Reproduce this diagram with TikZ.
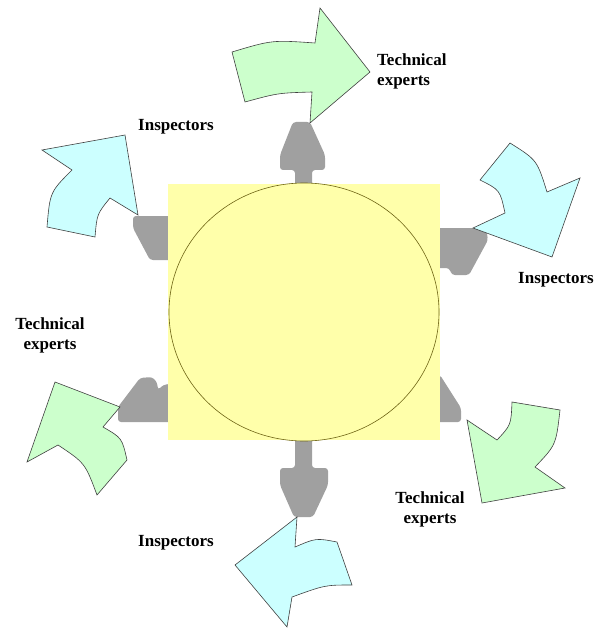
\documentclass[tikz,border=0pt]{standalone}
\usepackage{fontspec}
\setmainfont{Liberation Serif}
\usepackage{xcolor}
\definecolor{boardyellow}{RGB}{255,255,170}
\definecolor{ringline}{RGB}{110,100,20}
\definecolor{inspcyan}{RGB}{204,255,255}
\definecolor{techgreen}{RGB}{204,255,204}
\definecolor{linkgrey}{RGB}{160,160,160}
\tikzstyle{inspector arrow}=[
        draw = black!75,
        line width = 0.6pt,
        fill = inspcyan
    ]
\tikzstyle{expert arrow}=[
        draw = black!75,
        line width = 0.6pt,
        fill = techgreen
    ]
\tikzstyle{link head}=[
    fill = linkgrey,
    rounded corners = 3pt
]
\tikzstyle{tag text}=[
    font = \bfseries\fontsize{17}{20}\selectfont,
    inner sep = 0pt
]

\begin{document}
\begin{tikzpicture}[x=1pt, y=-1pt]
        \useasboundingbox (0,0) rectangle (595,628);

        % grey links, partly hidden by the board
        \fill[link head] (295,190) -- (295,170) -- (280,170) -- (280,155) -- (293,122)
            -- (310,122) -- (325,155) -- (325,170) -- (312,170) -- (312,190) -- cycle;
        \fill[link head] (295,435) -- (295,468) -- (280,468) -- (280,485) -- (294,517)
            -- (313,517) -- (328,485) -- (328,468) -- (312,468) -- (312,435) -- cycle;
        \fill[link head] (175,216) -- (133,216) -- (133,228) -- (150,260) -- (175,260) -- cycle;
        \fill[link head] (435,228) -- (486,228) -- (488,240) -- (469,275) -- (452,275)
            -- (449,268) -- (435,268) -- cycle;
        \fill[link head] (175,422) -- (118,422) -- (118,407) -- (140,378) -- (152,377)
            -- (157,382) -- (158,390) -- (163,385) -- (175,383) -- cycle;
        \fill[link head] (435,375) -- (440,375) -- (461,408) -- (461,422) -- (435,422) -- cycle;

        % board and ring
        \fill[boardyellow] (168,184) rectangle (440,440);
        \draw[ringline, fill = boardyellow, line width = 0.6pt] (304,312) ellipse [x radius=135, y radius=129];

        % curved arrows
        \draw[expert arrow] (370,72) -- (320,8) -- (315,43) .. controls (272,40) .. (232,52)
            -- (245,102) .. controls (278,93) .. (312,92) -- (310,123) -- cycle;
        \draw[inspector arrow] (125,135) -- (42,150) -- (72,170) .. controls (50,192) .. (47,227)
            -- (95,237) .. controls (97,214) .. (110,198) -- (138,215) -- cycle;
        \draw[inspector arrow] (552,257) -- (580,178) -- (547,192) .. controls (537,160) .. (510,143)
            -- (480,180) .. controls (500,190) .. (505,213) -- (473,228) -- cycle;
        \draw[expert arrow] (55,382) -- (120,407) -- (103,427) .. controls (122,438) .. (127,460)
            -- (97,495) .. controls (85,463) .. (58,445) -- (27,462) -- cycle;
        \draw[expert arrow] (482,503) -- (565,488) -- (535,467) .. controls (556,445) .. (560,410)
            -- (512,402) .. controls (511,425) .. (497,440) -- (467,420) -- cycle;
        \draw[inspector arrow] (235,565) -- (297,517) -- (295,547) .. controls (316,538) .. (337,542)
            -- (352,585) .. controls (325,585) .. (292,597) -- (287,627) -- cycle;

        % labels
        \node[tag text, anchor = west, align = left] (experts-top) at (377,71) {Technical\\experts};
        \node[tag text] (inspectors-left) at (176,127) {Inspectors};
        \node[tag text] (inspectors-right) at (556,280) {Inspectors};
        \node[tag text, align = center] (experts-left) at (50,335) {Technical\\experts};
        \node[tag text, align = center] (experts-right) at (430,509) {Technical\\experts};
        \node[tag text] (inspectors-bottom) at (176,543) {Inspectors};

    \end{tikzpicture}
\end{document}
